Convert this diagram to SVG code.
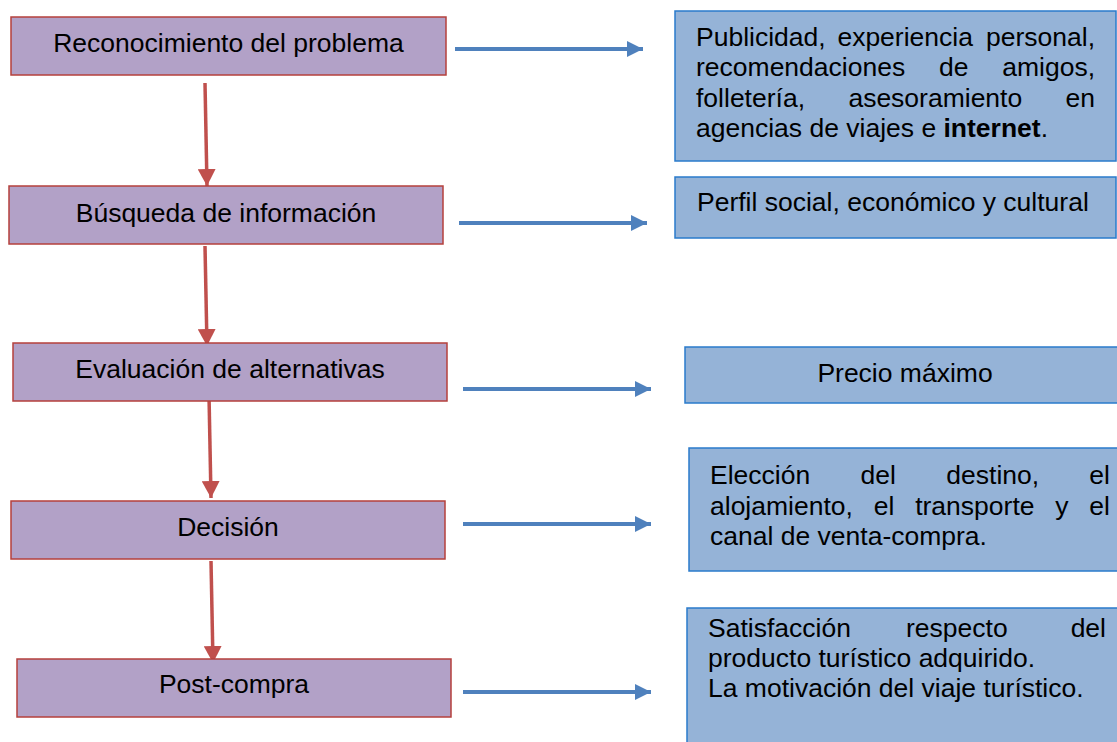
<svg xmlns="http://www.w3.org/2000/svg" width="1117" height="742" viewBox="0 0 1117 742">
<style>
.step{fill:#B2A1C7;stroke:#B5403D;stroke-width:1.5}
.info{fill:#95B3D7;stroke:#2A7BCB;stroke-width:1.5}
text{font-family:"Liberation Sans",Arial,sans-serif;font-size:26.5px;fill:#000}
.c{text-anchor:middle}
.e{text-anchor:end}
.red{stroke:#C0504D;stroke-width:3.5;fill:none}
.blue{stroke:#4F81BD;stroke-width:4;fill:none}
</style>
<defs>
<marker id="ah-red" markerUnits="userSpaceOnUse" markerWidth="18" markerHeight="18" viewBox="0 0 18 18" refX="17" refY="9" orient="auto">
<path d="M0,0 L17,9 L0,18 Z" fill="#C0504D"/>
</marker>
<marker id="ah-blue" markerUnits="userSpaceOnUse" markerWidth="16" markerHeight="16" viewBox="0 0 16 16" refX="16" refY="8" orient="auto">
<path d="M0,0 L16,8 L0,16 Z" fill="#4F81BD"/>
</marker>
</defs>
<rect width="1117" height="742" fill="#fff"/>

<g id="connectors">
<path class="red" d="M205,83 L207,186" marker-end="url(#ah-red)"/>
<path class="red" d="M205,246 L207,346" marker-end="url(#ah-red)"/>
<path class="red" d="M209,395 L211,498" marker-end="url(#ah-red)"/>
<path class="red" d="M211,561 L213,663" marker-end="url(#ah-red)"/>
<path class="blue" d="M455,49 L643,49" marker-end="url(#ah-blue)"/>
<path class="blue" d="M459,223 L647,223" marker-end="url(#ah-blue)"/>
<path class="blue" d="M463,389 L651,389" marker-end="url(#ah-blue)"/>
<path class="blue" d="M463,524 L651,524" marker-end="url(#ah-blue)"/>
<path class="blue" d="M463,692 L651,692" marker-end="url(#ah-blue)"/>
</g>

<g id="n-reconocimiento">
<rect class="step" x="11" y="17" width="435" height="58"/>
<text class="c" x="228.5" y="52">Reconocimiento del problema</text>
</g>
<g id="n-busqueda">
<rect class="step" x="9" y="186" width="434" height="58"/>
<text class="c" x="226" y="222">Búsqueda de información</text>
</g>
<g id="n-evaluacion">
<rect class="step" x="13" y="343" width="434" height="58"/>
<text class="c" x="230" y="378">Evaluación de alternativas</text>
</g>
<g id="n-decision">
<rect class="step" x="11" y="501" width="434" height="58"/>
<text class="c" x="228" y="536">Decisión</text>
</g>
<g id="n-postcompra">
<rect class="step" x="17" y="659" width="434" height="58"/>
<text class="c" x="234" y="693">Post-compra</text>
</g>

<g id="n-fuentes">
<rect class="info" x="675" y="11" width="441" height="150"/>
<text y="46"><tspan x="696">Publicidad,</tspan><tspan x="837.4">experiencia</tspan></text>
<text class="e" x="1095" y="46">personal,</text>
<text y="76"><tspan x="696">recomendaciones</tspan><tspan x="939">de</tspan></text>
<text class="e" x="1095" y="76">amigos,</text>
<text y="107"><tspan x="696">folletería,</tspan><tspan x="848.4">asesoramiento</tspan></text>
<text class="e" x="1095" y="107">en</text>
<text x="696" y="137">agencias de viajes e <tspan font-weight="bold">internet</tspan>.</text>
</g>
<g id="n-perfil">
<rect class="info" x="675" y="177" width="441" height="61"/>
<text x="697" y="211">Perfil social, económico y cultural</text>
</g>
<g id="n-precio">
<rect class="info" x="685" y="347" width="440" height="56"/>
<text class="c" x="905" y="382">Precio máximo</text>
</g>
<g id="n-eleccion">
<rect class="info" x="689" y="448" width="436" height="123"/>
<text y="484"><tspan x="710">Elección</tspan><tspan x="860.5">del</tspan><tspan x="946.3">destino,</tspan></text>
<text class="e" x="1110" y="484">el</text>
<text y="515"><tspan x="710">alojamiento,</tspan><tspan x="873.7">el</tspan><tspan x="915.2">transporte</tspan><tspan x="1055.3">y</tspan></text>
<text class="e" x="1110" y="515">el</text>
<text x="710" y="545">canal de venta-compra.</text>
</g>
<g id="n-satisfaccion">
<rect class="info" x="687" y="608" width="438" height="145"/>
<text y="637"><tspan x="708">Satisfacción</tspan><tspan x="906">respecto</tspan></text>
<text class="e" x="1106" y="637">del</text>
<text x="708" y="667">producto turístico adquirido.</text>
<text x="708" y="697">La motivación del viaje turístico.</text>
</g>
</svg>
